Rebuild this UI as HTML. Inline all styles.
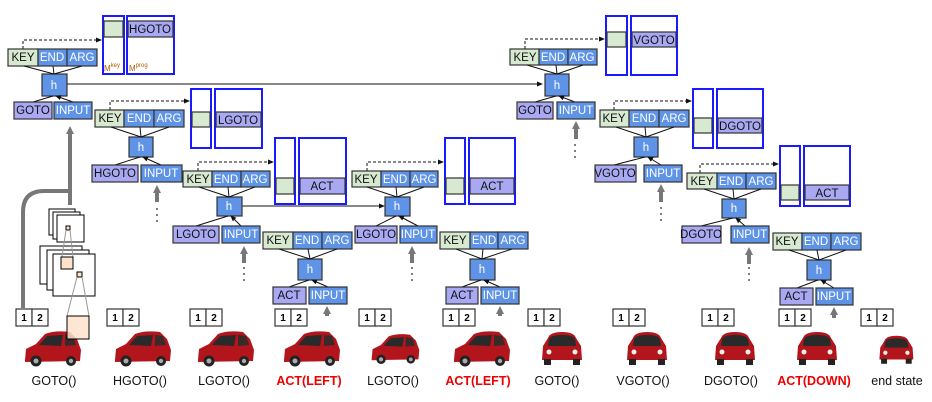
<!DOCTYPE html>
<html><head><meta charset="utf-8"><style>
html,body{margin:0;padding:0;background:#fff;}
svg{display:block;font-family:"Liberation Sans",Arial,sans-serif;}
.k{fill:#d8e9d2;stroke:#333;stroke-width:1.2}
.b{fill:#5f93e6;stroke:#333;stroke-width:1.2}
.p{fill:#a9a8f3;stroke:#333;stroke-width:1.2}
.m{fill:#fff;stroke:#1a1aff;stroke-width:2}
.tw{fill:#fff;font-size:11.5px;text-anchor:middle}
.tb{fill:#111;font-size:11.5px;text-anchor:middle}
.a{stroke:#111;stroke-width:1;fill:none;marker-end:url(#ah)}
.d{stroke:#111;stroke-width:1;fill:none;stroke-dasharray:3,2;marker-end:url(#ah)}
.g{stroke:#777;stroke-width:4;fill:none}
.lab{font-size:12.5px;text-anchor:middle;fill:#111}
.red{font-size:12.5px;text-anchor:middle;fill:#e00;font-weight:bold}
.nb{fill:#fff;stroke:#333;stroke-width:1.2}
.n{font-size:10px;font-weight:bold;text-anchor:middle;fill:#000}
</style></head><body>
<svg width="932" height="402" viewBox="0 0 932 402" xmlns="http://www.w3.org/2000/svg">
<defs>
<marker id="ah" markerWidth="6" markerHeight="6" refX="5" refY="3" orient="auto"><path d="M0,0.5 L6,3 L0,5.5Z" fill="#111"/></marker>
<marker id="gh" markerUnits="userSpaceOnUse" markerWidth="8" markerHeight="8" refX="2" refY="4" orient="auto"><path d="M0,0 L8,4 L0,8Z" fill="#777"/></marker>
<g id="car">
<path d="M2,30 L3,19 L13,14 L22,4 Q32,0 47,2 L54,9 L58,20 L57,31 L2,32Z" fill="#b2151b"/>
<path d="M16,15 L24,6 L40,5 L38,16Z" fill="#2a2a2a"/>
<path d="M42,5 L50,6 L53,15 L42,16Z" fill="#3a2a2a"/>
<circle cx="13" cy="31" r="5.5" fill="#222"/><circle cx="13" cy="31" r="2.5" fill="#aaa"/>
<circle cx="48" cy="31" r="5" fill="#222"/><circle cx="48" cy="31" r="2.2" fill="#aaa"/>
</g>
<g id="carf">
<path d="M4,30 L5,16 L10,8 Q12,2 24,2 Q36,2 38,8 L43,16 L44,30Z" fill="#b2151b"/>
<path d="M11,9 Q13,5 24,5 Q35,5 37,9 L38,16 L10,16Z" fill="#2a2a2a"/>
<rect x="6" y="29" width="7" height="6" fill="#222"/><rect x="35" y="29" width="7" height="6" fill="#222"/>
<circle cx="11" cy="22" r="2.5" fill="#eee"/><circle cx="37" cy="22" r="2.5" fill="#eee"/>
</g>
</defs>

<path class="g" d="M23,308 V212 Q23,191 44,191 H70"/>
<path class="g" d="M70,205 V132" marker-end="url(#gh)"/>
<rect x="49" y="209" width="26" height="26" fill="#fff" stroke="#000"/>
<rect x="53" y="212" width="27" height="27" fill="#fff" stroke="#000"/>
<rect x="57" y="215" width="27" height="27" fill="#fff" stroke="#000"/>
<rect x="66" y="226" width="4" height="4" fill="#fde3cc" stroke="#000"/>
<rect x="40" y="246" width="42" height="38" fill="#fff" stroke="#000"/>
<rect x="47" y="250" width="42" height="40" fill="#fff" stroke="#000"/>
<rect x="53" y="254" width="42" height="42" fill="#fff" stroke="#000"/>
<line x1="66" y1="230" x2="62" y2="257" stroke="#999"/><line x1="70" y1="230" x2="73" y2="257" stroke="#999"/>
<rect x="61" y="257" width="12" height="12" fill="#fde3cc" stroke="#000"/>
<rect x="77" y="272" width="5" height="5" fill="#fde3cc" stroke="#000"/>

<use href="#car" x="23" y="330"/>
<use href="#car" x="113" y="330"/>
<use href="#car" x="196" y="330"/>
<use href="#car" x="282" y="330"/>
<use href="#car" transform="translate(370,333) scale(0.85)"/>
<use href="#car" x="452" y="330"/>
<use href="#carf" transform="translate(538,330)"/>
<use href="#carf" transform="translate(623,330)"/>
<use href="#carf" transform="translate(711,330)"/>
<use href="#carf" transform="translate(793,330)"/>
<use href="#carf" transform="translate(876,334) scale(0.85)"/>
<line x1="77" y1="277" x2="67" y2="316" stroke="#999"/><line x1="82" y1="277" x2="89" y2="316" stroke="#999"/>
<rect x="67" y="316" width="22" height="23" fill="#fde3cc" fill-opacity="0.85" stroke="#000"/>

<g>
<rect class="nb" x="16" y="309" width="16" height="17"/><rect class="nb" x="32" y="309" width="16" height="17"/><text class="n" x="24" y="321">1</text><text class="n" x="40" y="321">2</text>
<rect class="nb" x="107" y="309" width="16" height="17"/><rect class="nb" x="123" y="309" width="16" height="17"/><text class="n" x="115" y="321">1</text><text class="n" x="131" y="321">2</text>
<rect class="nb" x="190" y="309" width="16" height="17"/><rect class="nb" x="206" y="309" width="16" height="17"/><text class="n" x="198" y="321">1</text><text class="n" x="214" y="321">2</text>
<rect class="nb" x="275" y="309" width="16" height="17"/><rect class="nb" x="291" y="309" width="16" height="17"/><text class="n" x="283" y="321">1</text><text class="n" x="299" y="321">2</text>
<rect class="nb" x="359" y="309" width="16" height="17"/><rect class="nb" x="375" y="309" width="16" height="17"/><text class="n" x="367" y="321">1</text><text class="n" x="383" y="321">2</text>
<rect class="nb" x="443" y="309" width="16" height="17"/><rect class="nb" x="459" y="309" width="16" height="17"/><text class="n" x="451" y="321">1</text><text class="n" x="467" y="321">2</text>
<rect class="nb" x="528" y="309" width="16" height="17"/><rect class="nb" x="544" y="309" width="16" height="17"/><text class="n" x="536" y="321">1</text><text class="n" x="552" y="321">2</text>
<rect class="nb" x="613" y="309" width="16" height="17"/><rect class="nb" x="629" y="309" width="16" height="17"/><text class="n" x="621" y="321">1</text><text class="n" x="637" y="321">2</text>
<rect class="nb" x="702" y="309" width="16" height="17"/><rect class="nb" x="718" y="309" width="16" height="17"/><text class="n" x="710" y="321">1</text><text class="n" x="726" y="321">2</text>
<rect class="nb" x="779" y="309" width="16" height="17"/><rect class="nb" x="795" y="309" width="16" height="17"/><text class="n" x="787" y="321">1</text><text class="n" x="803" y="321">2</text>
<rect class="nb" x="861" y="309" width="16" height="17"/><rect class="nb" x="877" y="309" width="16" height="17"/><text class="n" x="869" y="321">1</text><text class="n" x="885" y="321">2</text>
</g>

<text class="lab" x="54" y="385">GOTO()</text>
<text class="lab" x="140" y="385">HGOTO()</text>
<text class="lab" x="224" y="385">LGOTO()</text>
<text class="red" x="309" y="385">ACT(LEFT)</text>
<text class="lab" x="393" y="385">LGOTO()</text>
<text class="red" x="478" y="385">ACT(LEFT)</text>
<text class="lab" x="557" y="385">GOTO()</text>
<text class="lab" x="643" y="385">VGOTO()</text>
<text class="lab" x="731" y="385">DGOTO()</text>
<text class="red" x="814" y="385">ACT(DOWN)</text>
<text class="lab" x="897" y="385">end state</text>

<line class="a" x1="67" y1="84" x2="542" y2="84"/>
<line class="a" x1="242" y1="206" x2="384" y2="206"/>

<!-- Module 1 -->
<path class="d" d="M23,49 V40 H101"/>
<rect class="m" x="103" y="16" width="21" height="58"/><rect x="104" y="21" width="19" height="16" class="k"/>
<rect class="m" x="127" y="16" width="47" height="58"/><rect x="128" y="21" width="45" height="16" class="p"/><text class="tb" x="150" y="33">HGOTO</text>
<text x="104" y="71" font-size="8" fill="#b35a00">M<tspan font-size="6" dy="-4">key</tspan></text>
<text x="129" y="71" font-size="8" fill="#b35a00">M<tspan font-size="6" dy="-4">prog</tspan></text>
<rect class="k" x="8" y="49" width="30" height="17"/><text class="tb" x="23" y="61">KEY</text>
<rect class="b" x="38" y="49" width="29" height="17"/><text class="tw" x="52" y="61">END</text>
<rect class="b" x="67" y="49" width="30" height="17"/><text class="tw" x="82" y="61">ARG</text>
<rect class="b" x="42" y="74" width="25" height="22"/><text class="tw" x="54" y="89">h</text>
<path class="a" d="M54,74 L24,66 M54,74 L53,66 M54,74 L82,66 M33,102 L53,96 M73,102 L56,96"/>
<rect class="p" x="14" y="102" width="38" height="17"/><text class="tb" x="33" y="114">GOTO</text>
<rect class="b" x="54" y="102" width="38" height="17"/><text class="tw" x="73" y="114">INPUT</text>

<!-- Module 2 -->
<path class="d" d="M110,110 V101 H189"/>
<rect class="m" x="191" y="89" width="20" height="59"/><rect x="192" y="112" width="18" height="15" class="k"/>
<rect class="m" x="215" y="89" width="47" height="59"/><rect x="216" y="112" width="45" height="15" class="p"/><text class="tb" x="238" y="124">LGOTO</text>
<rect class="k" x="95" y="110" width="29" height="17"/><text class="tb" x="110" y="122">KEY</text>
<rect class="b" x="124" y="110" width="30" height="17"/><text class="tw" x="139" y="122">END</text>
<rect class="b" x="154" y="110" width="30" height="17"/><text class="tw" x="169" y="122">ARG</text>
<rect class="b" x="129" y="137" width="24" height="20"/><text class="tw" x="141" y="151">h</text>
<path class="a" d="M141,137 L111,127 M141,137 L140,127 M141,137 L169,127 M115,165 L140,157 M161,165 L143,157"/>
<rect class="p" x="92" y="165" width="46" height="17"/><text class="tb" x="115" y="177">HGOTO</text>
<rect class="b" x="141" y="165" width="41" height="17"/><text class="tw" x="161" y="177">INPUT</text>
<path class="g" d="M157,202 V191" marker-end="url(#gh)"/>

<!-- Module 3 -->
<path class="d" d="M198,171 V162 H273"/>
<rect class="m" x="275" y="138" width="20" height="66"/><rect x="276" y="178" width="18" height="16" class="k"/>
<rect class="m" x="299" y="138" width="47" height="66"/><rect x="300" y="178" width="45" height="16" class="p"/><text class="tb" x="322" y="190">ACT</text>
<rect class="k" x="183" y="171" width="29" height="16"/><text class="tb" x="198" y="183">KEY</text>
<rect class="b" x="212" y="171" width="29" height="16"/><text class="tw" x="226" y="183">END</text>
<rect class="b" x="241" y="171" width="29" height="16"/><text class="tw" x="255" y="183">ARG</text>
<rect class="b" x="217" y="197" width="25" height="19"/><text class="tw" x="229" y="210">h</text>
<path class="a" d="M229,197 L199,187 M229,197 L228,187 M229,197 L255,187 M196,226 L228,216 M241,226 L231,216"/>
<rect class="p" x="173" y="226" width="46" height="17"/><text class="tb" x="196" y="238">LGOTO</text>
<rect class="b" x="222" y="226" width="38" height="17"/><text class="tw" x="241" y="238">INPUT</text>
<path class="g" d="M244,263 V252" marker-end="url(#gh)"/>

<!-- Module 4 -->
<rect class="k" x="263" y="232" width="30" height="17"/><text class="tb" x="278" y="244">KEY</text>
<rect class="b" x="293" y="232" width="29" height="17"/><text class="tw" x="307" y="244">END</text>
<rect class="b" x="322" y="232" width="30" height="17"/><text class="tw" x="337" y="244">ARG</text>
<rect class="b" x="298" y="259" width="24" height="21"/><text class="tw" x="310" y="273">h</text>
<path class="a" d="M310,259 L279,249 M310,259 L308,249 M310,259 L337,249 M289,287 L309,280 M328,287 L312,280"/>
<rect class="p" x="273" y="287" width="33" height="17"/><text class="tb" x="289" y="299">ACT</text>
<rect class="b" x="309" y="287" width="38" height="17"/><text class="tw" x="328" y="299">INPUT</text>
<path class="g" d="M327,316 V312" marker-end="url(#gh)"/>

<!-- Module 5 -->
<path class="d" d="M367,171 V162 H443"/>
<rect class="m" x="445" y="138" width="20" height="66"/><rect x="446" y="178" width="18" height="16" class="k"/>
<rect class="m" x="469" y="138" width="46" height="66"/><rect x="470" y="178" width="44" height="16" class="p"/><text class="tb" x="492" y="190">ACT</text>
<rect class="k" x="352" y="171" width="29" height="16"/><text class="tb" x="366" y="183">KEY</text>
<rect class="b" x="381" y="171" width="29" height="16"/><text class="tw" x="395" y="183">END</text>
<rect class="b" x="410" y="171" width="28" height="16"/><text class="tw" x="424" y="183">ARG</text>
<rect class="b" x="385" y="197" width="25" height="19"/><text class="tw" x="397" y="210">h</text>
<path class="a" d="M397,197 L367,187 M397,197 L396,187 M397,197 L424,187 M376,226 L396,216 M418,226 L399,216"/>
<rect class="p" x="355" y="226" width="42" height="17"/><text class="tb" x="376" y="238">LGOTO</text>
<rect class="b" x="400" y="226" width="37" height="17"/><text class="tw" x="418" y="238">INPUT</text>
<path class="g" d="M412,263 V252" marker-end="url(#gh)"/>

<!-- Module 6 -->
<rect class="k" x="440" y="232" width="30" height="17"/><text class="tb" x="455" y="244">KEY</text>
<rect class="b" x="470" y="232" width="28" height="17"/><text class="tw" x="484" y="244">END</text>
<rect class="b" x="498" y="232" width="30" height="17"/><text class="tw" x="513" y="244">ARG</text>
<rect class="b" x="470" y="259" width="25" height="21"/><text class="tw" x="482" y="273">h</text>
<path class="a" d="M482,259 L456,249 M482,259 L483,249 M482,259 L512,249 M462,287 L481,280 M500,287 L484,280"/>
<rect class="p" x="446" y="287" width="32" height="17"/><text class="tb" x="462" y="299">ACT</text>
<rect class="b" x="481" y="287" width="38" height="17"/><text class="tw" x="500" y="299">INPUT</text>
<path class="g" d="M500,316 V312" marker-end="url(#gh)"/>

<!-- Module 7 -->
<path class="d" d="M525,49 V39 H604"/>
<rect class="m" x="606" y="16" width="21" height="59"/><rect x="607" y="32" width="19" height="15" class="k"/>
<rect class="m" x="631" y="16" width="46" height="59"/><rect x="632" y="32" width="44" height="15" class="p"/><text class="tb" x="654" y="44">VGOTO</text>
<rect class="k" x="510" y="49" width="29" height="16"/><text class="tb" x="525" y="61">KEY</text>
<rect class="b" x="539" y="49" width="29" height="16"/><text class="tw" x="553" y="61">END</text>
<rect class="b" x="568" y="49" width="29" height="16"/><text class="tw" x="582" y="61">ARG</text>
<rect class="b" x="545" y="74" width="24" height="22"/><text class="tw" x="557" y="89">h</text>
<path class="a" d="M557,74 L527,65 M557,74 L556,65 M557,74 L583,65 M535,102 L556,96 M575,102 L559,96"/>
<rect class="p" x="517" y="102" width="36" height="17"/><text class="tb" x="535" y="114">GOTO</text>
<rect class="b" x="557" y="102" width="38" height="17"/><text class="tw" x="576" y="114">INPUT</text>
<path class="g" d="M576,139 V127" marker-end="url(#gh)"/>

<!-- Module 8 -->
<path class="d" d="M614,110 V101 H691"/>
<rect class="m" x="693" y="89" width="20" height="59"/><rect x="694" y="118" width="18" height="15" class="k"/>
<rect class="m" x="717" y="89" width="46" height="59"/><rect x="718" y="118" width="44" height="15" class="p"/><text class="tb" x="740" y="130">DGOTO</text>
<rect class="k" x="600" y="110" width="29" height="17"/><text class="tb" x="614" y="122">KEY</text>
<rect class="b" x="629" y="110" width="30" height="17"/><text class="tw" x="644" y="122">END</text>
<rect class="b" x="659" y="110" width="30" height="17"/><text class="tw" x="674" y="122">ARG</text>
<rect class="b" x="634" y="137" width="24" height="20"/><text class="tw" x="646" y="151">h</text>
<path class="a" d="M646,137 L616,127 M646,137 L645,127 M646,137 L674,127 M614,165 L645,157 M661,165 L648,157"/>
<rect class="p" x="595" y="165" width="41" height="17"/><text class="tb" x="615" y="177">VGOTO</text>
<rect class="b" x="644" y="165" width="38" height="17"/><text class="tw" x="663" y="177">INPUT</text>
<path class="g" d="M661,202 V190" marker-end="url(#gh)"/>

<!-- Module 9 -->
<path class="d" d="M700,173 V164 H778"/>
<rect class="m" x="780" y="146" width="20" height="60"/><rect x="781" y="185" width="18" height="15" class="k"/>
<rect class="m" x="804" y="146" width="46" height="60"/><rect x="805" y="185" width="44" height="15" class="p"/><text class="tb" x="827" y="197">ACT</text>
<rect class="k" x="687" y="173" width="30" height="16"/><text class="tb" x="702" y="185">KEY</text>
<rect class="b" x="717" y="173" width="29" height="16"/><text class="tw" x="731" y="185">END</text>
<rect class="b" x="746" y="173" width="30" height="16"/><text class="tw" x="761" y="185">ARG</text>
<rect class="b" x="722" y="199" width="24" height="19"/><text class="tw" x="734" y="212">h</text>
<path class="a" d="M734,199 L704,189 M734,199 L733,189 M734,199 L761,189 M701,226 L733,218 M745,226 L736,218"/>
<rect class="p" x="682" y="226" width="39" height="17"/><text class="tb" x="701" y="238">DGOTO</text>
<rect class="b" x="731" y="226" width="38" height="17"/><text class="tw" x="750" y="238">INPUT</text>
<path class="g" d="M749,264 V253" marker-end="url(#gh)"/>

<!-- Module 10 -->
<rect class="k" x="773" y="233" width="29" height="17"/><text class="tb" x="787" y="245">KEY</text>
<rect class="b" x="802" y="233" width="29" height="17"/><text class="tw" x="816" y="245">END</text>
<rect class="b" x="831" y="233" width="30" height="17"/><text class="tw" x="846" y="245">ARG</text>
<rect class="b" x="807" y="260" width="24" height="20"/><text class="tw" x="819" y="274">h</text>
<path class="a" d="M819,260 L789,250 M819,260 L817,250 M819,260 L846,250 M797,288 L818,280 M834,288 L821,280"/>
<rect class="p" x="780" y="288" width="33" height="17"/><text class="tb" x="796" y="300">ACT</text>
<rect class="b" x="816" y="288" width="37" height="17"/><text class="tw" x="834" y="300">INPUT</text>
<path class="g" d="M834,318 V313" marker-end="url(#gh)"/>

<g fill="#555">
<circle cx="157" cy="209" r="1"/><circle cx="157" cy="215" r="1"/><circle cx="157" cy="221" r="1"/>
<circle cx="244" cy="268" r="1"/><circle cx="244" cy="274" r="1"/><circle cx="244" cy="280" r="1"/>
<circle cx="412" cy="268" r="1"/><circle cx="412" cy="274" r="1"/><circle cx="412" cy="280" r="1"/>
<circle cx="575" cy="145" r="1"/><circle cx="575" cy="151" r="1"/><circle cx="575" cy="157" r="1"/>
<circle cx="661" cy="208" r="1"/><circle cx="661" cy="214" r="1"/><circle cx="661" cy="220" r="1"/>
<circle cx="749" cy="268" r="1"/><circle cx="749" cy="274" r="1"/><circle cx="749" cy="280" r="1"/>
</g>
</svg>
</body></html>
